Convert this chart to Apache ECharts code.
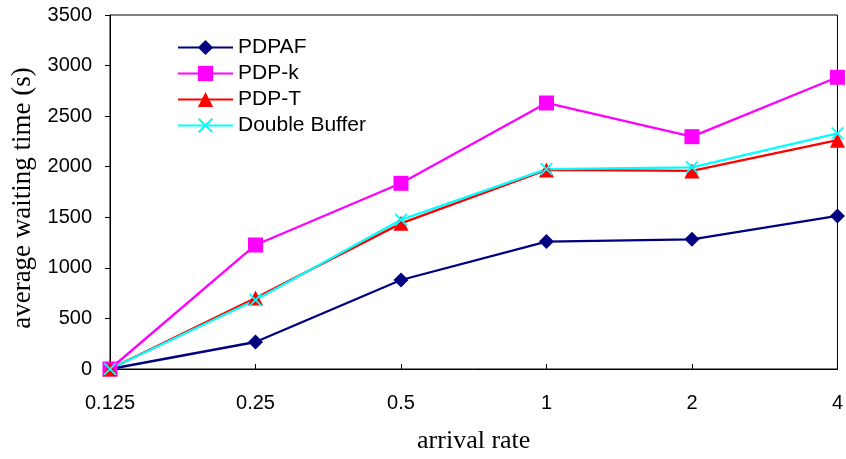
<!DOCTYPE html>
<html>
<head>
<meta charset="utf-8">
<script src="https://cdn.jsdelivr.net/npm/echarts@6/dist/echarts.min.js"></script>
<style>
  html, body { margin: 0; padding: 0; background: #fff; }
  #chart { width: 846px; height: 459px; }
</style>
</head>
<body>
<div id="chart"></div>
<script>
// data
var rates = ['0.125', '0.25', '0.5', '1', '2', '4'];
var pdpaf = [0, 267, 880, 1260, 1282, 1513];
var pdpK = [0, 1226, 1836, 2630, 2297, 2884];
var pdpT = [0, 702, 1440, 1968, 1958, 2262];
var doubleBuffer = [0, 682, 1475, 1977, 1994, 2330];

var crossPath = 'path://M0,1L1,0L5,4L9,0L10,1L6,5L10,9L9,10L5,6L1,10L0,9L4,5Z';

function makeSeries(name, data, color, symbol, size) {
    return {
        name: name,
        type: 'line',
        data: data,
        symbol: symbol,
        symbolSize: size,
        showAllSymbol: true,
        lineStyle: { color: color, width: 2.3 },
        itemStyle: { color: color },
        emphasis: { disabled: true },
        animation: false
    };
}

var chart = echarts.init(document.getElementById('chart'));

var option = {
    backgroundColor: '#fff',
    grid: {
        left: 110, right: 7, top: 15, bottom: 90,
        show: true, borderColor: '#000', borderWidth: 1
    },
    legend: {
        orient: 'vertical',
        left: 172,
        top: 32,
        itemWidth: 55,
        itemHeight: 19,
        itemGap: 5,
        textStyle: { fontFamily: 'Liberation Sans', fontSize: 21, color: '#000', lineHeight: 19 },
        data: ['PDPAF', 'PDP-k', 'PDP-T', 'Double Buffer']
    },
    xAxis: {
        type: 'category',
        data: rates,
        boundaryGap: false,
        name: 'arrival rate',
        nameLocation: 'middle',
        nameGap: 59,
        nameTextStyle: { fontFamily: 'Liberation Serif', fontSize: 26, color: '#000' },
        axisLine: { lineStyle: { color: '#000', width: 1 } },
        axisTick: { inside: true, length: 5, lineStyle: { color: '#000' } },
        axisLabel: { fontFamily: 'Liberation Sans', fontSize: 20, color: '#000', margin: 24 },
        splitLine: { show: false }
    },
    yAxis: {
        type: 'value',
        min: 0, max: 3500, interval: 500,
        name: 'average waiting time (s)',
        nameLocation: 'middle',
        nameGap: 72,
        nameTextStyle: {
            fontFamily: 'Liberation Serif', fontSize: 27, color: '#000',
            padding: [0, 12, 0, 0]
        },
        axisLine: { show: true, lineStyle: { color: '#000', width: 1 } },
        axisTick: { show: true, length: 5, lineStyle: { color: '#000' } },
        axisLabel: {
            fontFamily: 'Liberation Sans', fontSize: 20, color: '#000', margin: 18,
            formatter: function (v) { return String(v); }
        },
        splitLine: { show: false }
    },
    series: [
        makeSeries('PDPAF', pdpaf, '#000080', 'diamond', 15),
        makeSeries('PDP-k', pdpK, '#FF00FF', 'rect', 15),
        makeSeries('PDP-T', pdpT, '#FF0000', 'triangle', 15),
        makeSeries('Double Buffer', doubleBuffer, '#00FFFF', crossPath, 13)
    ]
};

chart.setOption(option);
</script>
</body>
</html>
